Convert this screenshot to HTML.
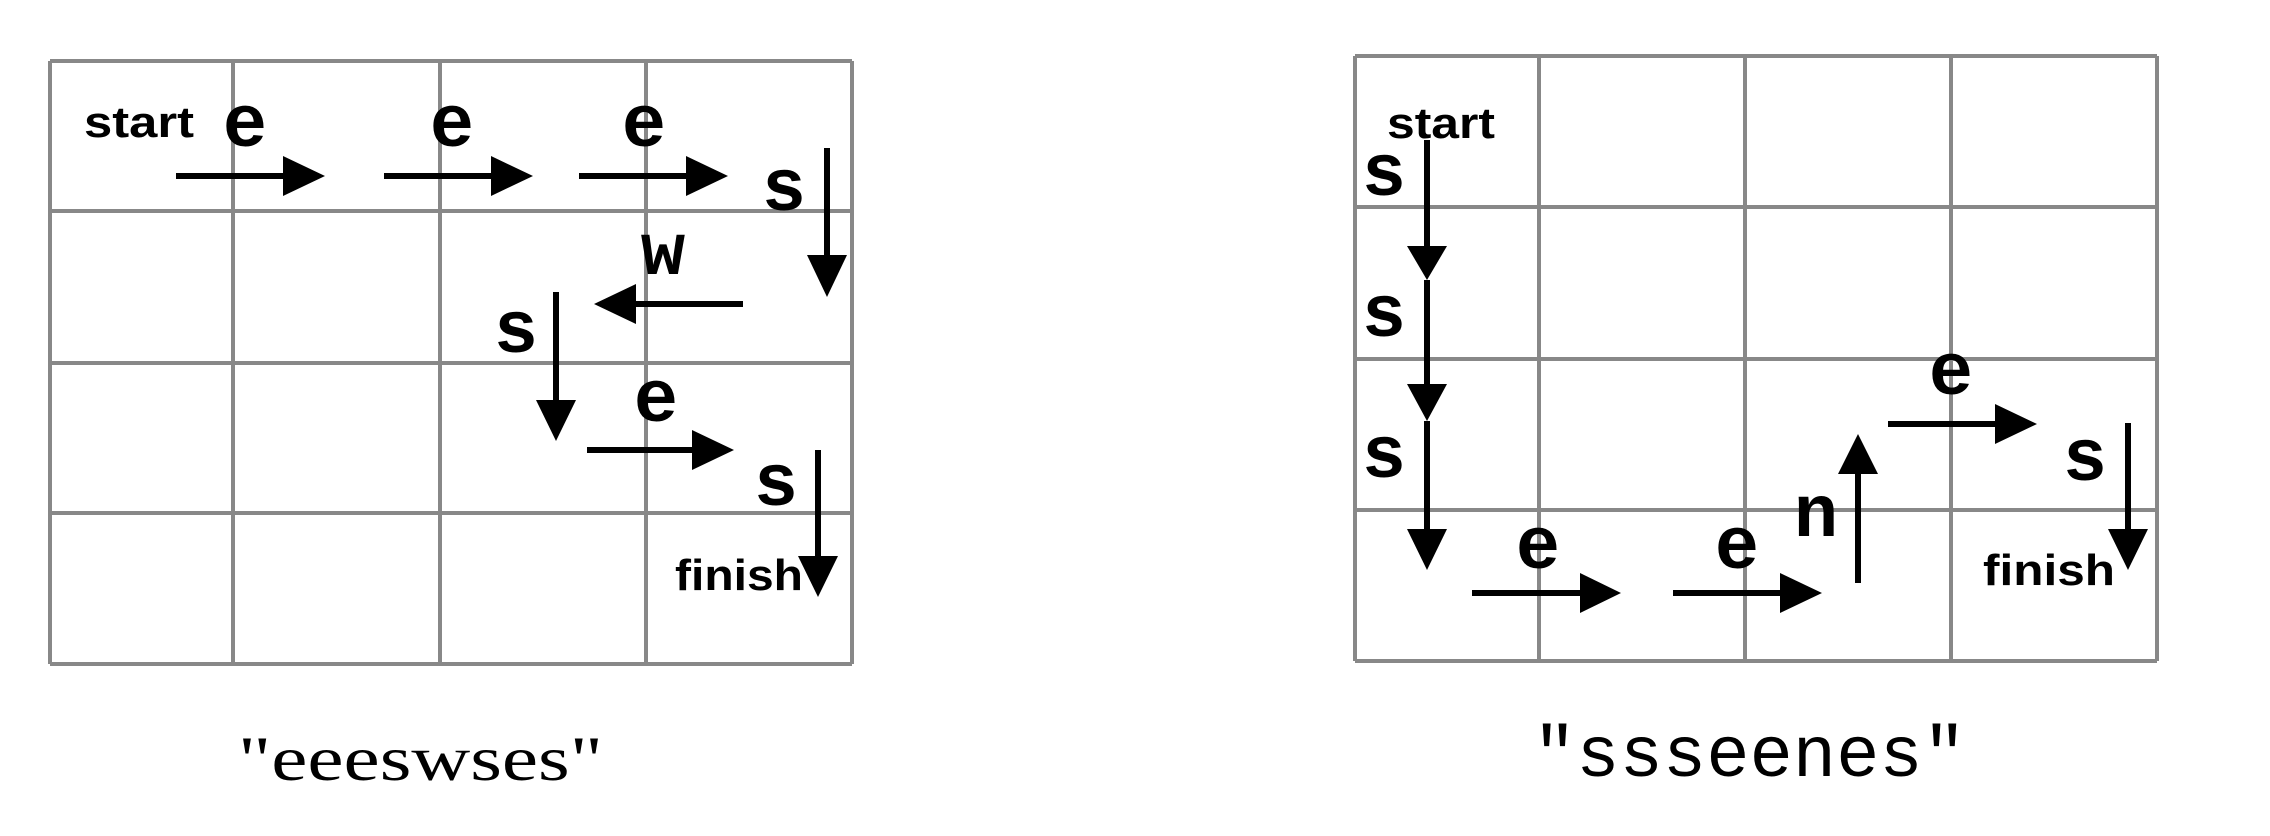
<!DOCTYPE html>
<html><head><meta charset="utf-8"><style>html,body{margin:0;padding:0;background:#fff}svg{display:block}</style></head>
<body>
<svg width="2270" height="836" viewBox="0 0 2270 836" xmlns="http://www.w3.org/2000/svg">
<rect width="2270" height="836" fill="#fff"/>
<g stroke="#888" stroke-width="4" fill="none">
<path d="M50 61H852M50 211H852M50 363H852M50 513H852M50 664H852M50 61V664M233 61V664M440 61V664M646 61V664M852 61V664"/>
<path d="M1355 56H2157M1355 207H2157M1355 359H2157M1355 510H2157M1355 661H2157M1355 56V661M1539 56V661M1745 56V661M1951 56V661M2157 56V661"/>
</g>
<g stroke="#000" stroke-width="6">
<path d="M176 176H290M384 176H497M579 176H692M827 148V262M743 304H630M556 292V406M587 450H698M818 450V562"/>
<path d="M1427 140V250M1427 280V388M1427 421V533M1472 593H1586M1673 593H1786M1858 583V470M1888 424H2001M2128 423V533"/>
</g>
<g fill="#000">
<polygon points="283,156 325,176 283,196"/>
<polygon points="491,156 533,176 491,196"/>
<polygon points="686,156 728,176 686,196"/>
<polygon points="807,255 847,255 827,297"/>
<polygon points="636,284 594,304 636,324"/>
<polygon points="536,400 576,400 556,441"/>
<polygon points="692,430 734,450 692,470"/>
<polygon points="798,556 838,556 818,597"/>
<polygon points="1407,246 1447,246 1427,280"/>
<polygon points="1407,384 1447,384 1427,421"/>
<polygon points="1407,529 1447,529 1427,570"/>
<polygon points="1580,573 1621,593 1580,613"/>
<polygon points="1780,573 1822,593 1780,613"/>
<polygon points="1838,474 1878,474 1858,434"/>
<polygon points="1995,404 2037,424 1995,444"/>
<polygon points="2108,529 2148,529 2128,570"/>
</g>
<g font-family="Liberation Sans, sans-serif" font-weight="bold" font-size="44" fill="#000">
<text x="84" y="137" textLength="110" lengthAdjust="spacingAndGlyphs">start</text>
<text x="675" y="590" textLength="128" lengthAdjust="spacingAndGlyphs">finish</text>
<text x="1387" y="138" textLength="108" lengthAdjust="spacingAndGlyphs">start</text>
<text x="1983" y="585" textLength="132" lengthAdjust="spacingAndGlyphs">finish</text>
</g>
<g font-family="Liberation Mono, monospace" font-weight="bold" font-size="74" fill="#000" text-anchor="middle">
<text x="245" y="146">e</text>
<text x="452" y="146">e</text>
<text x="644" y="146">e</text>
<text x="784" y="210">s</text>
<text x="663" y="274">w</text>
<text x="516" y="352">s</text>
<text x="656" y="421">e</text>
<text x="776" y="505">s</text>
<text x="1384" y="195">s</text>
<text x="1384" y="336">s</text>
<text x="1384" y="477">s</text>
<text x="1538" y="568">e</text>
<text x="1737" y="568">e</text>
<text x="1816" y="536">n</text>
<text x="1951" y="394">e</text>
<text x="2085" y="480">s</text>
</g>
<text x="238" y="780" font-family="Liberation Serif, serif" font-size="64" textLength="365" lengthAdjust="spacingAndGlyphs" fill="#000">"eeeswses"</text>
<text x="1533" y="776" font-family="Liberation Mono, monospace" font-size="72" textLength="433" lengthAdjust="spacingAndGlyphs" fill="#000">"ssseenes"</text>
</svg>
</body></html>
